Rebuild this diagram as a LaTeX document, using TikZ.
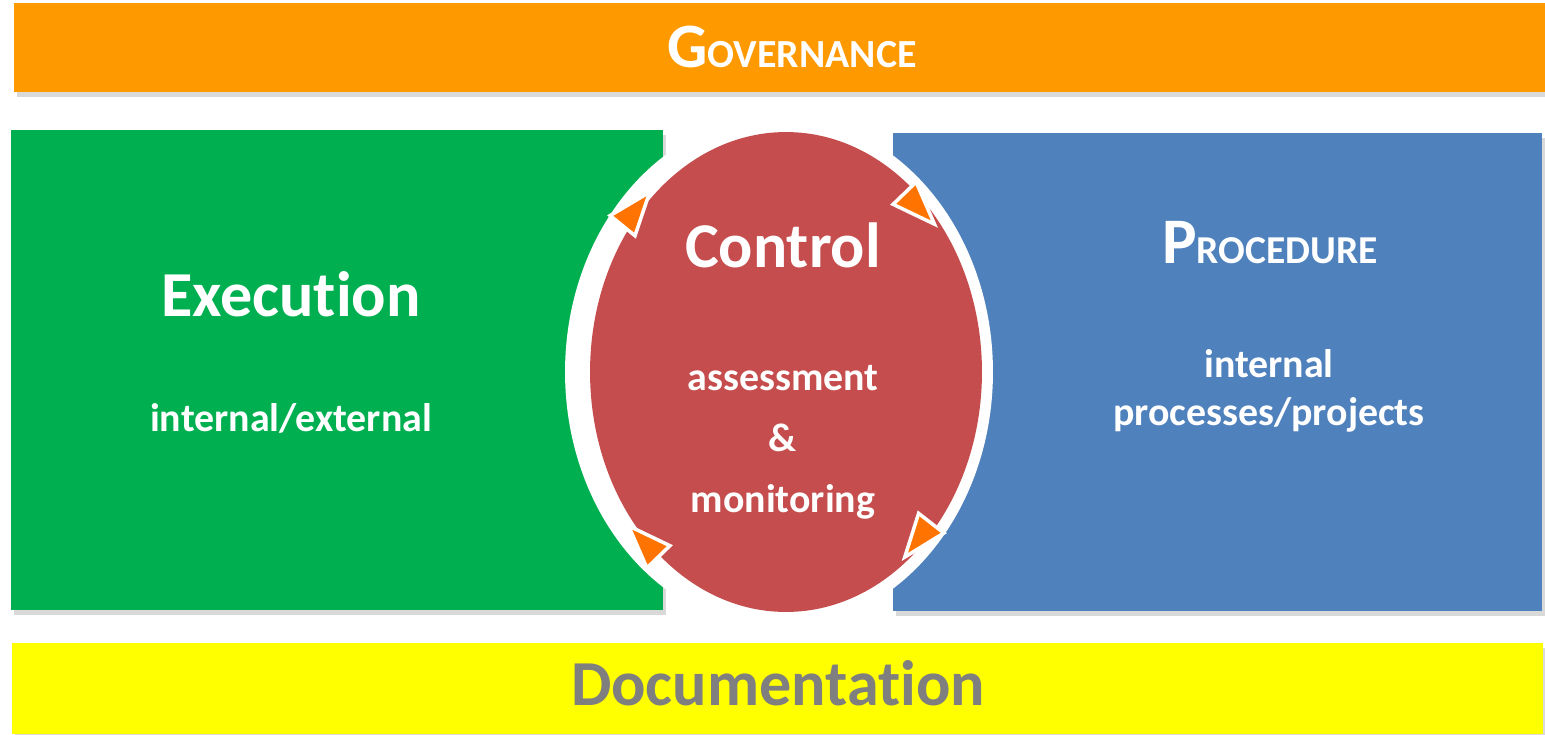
\documentclass[tikz,border=0pt]{standalone}
\usepackage{fontspec}
\setmainfont{Carlito}[Ligatures=NoCommon]
\usetikzlibrary{shapes, shadows, positioning}

\definecolor{govorange}{HTML}{FF9900}
\definecolor{execgreen}{HTML}{00B050}
\definecolor{procblue}{HTML}{4F81BD}
\definecolor{ctrlred}{HTML}{C64D4D}
\definecolor{docyellow}{HTML}{FFFF00}
\definecolor{docgrey}{HTML}{7F7F7F}
\definecolor{headorange}{HTML}{FF7300}

% orange arrow head on the control cycle: x, y, direction
\newcommand{\cyclehead}[3]{%
  \filldraw[headorange, draw=white, line width=2pt, shift={(#1,#2)}, rotate=#3]
    (28,0) -- (-15,16) -- (-15,-16) -- cycle;}

\begin{document}
\begin{tikzpicture}[x=0.02cm, y=-0.02cm,
    bar/.style={rectangle, anchor=north west, inner sep=0pt,
      drop shadow={shadow xshift=1.5pt, shadow yshift=-2.5pt, opacity=0.3}},
    title/.style={text=white, font=\bfseries\fontsize{36.5}{40}\selectfont, anchor=base},
    subtitle/.style={text=white, font=\bfseries\fontsize{22.7}{27}\selectfont, align=center, anchor=base}]
  \useasboundingbox (0,0) rectangle (1545,734);

  % Bars and boxes
  \node[bar, fill=govorange, minimum width=30.62cm, minimum height=1.78cm] (gov) at (14,3) {};
  \node[bar, fill=execgreen, minimum width=13.04cm, minimum height=9.6cm] (exec) at (11,130) {};
  \node[bar, fill=procblue, minimum width=12.98cm, minimum height=9.56cm] (proc) at (893,133) {};
  \node[bar, fill=docyellow, minimum width=30.62cm, minimum height=1.82cm] (doc) at (12,643) {};

  % White ring and control ellipse
  \node[ellipse, fill=white, inner sep=0pt, minimum width=8.56cm, minimum height=10.24cm] (ring) at (779,372) {};
  \node[ellipse, fill=ctrlred, inner sep=0pt, minimum width=7.84cm, minimum height=9.6cm] (ctrl) at (786,372) {};

  % Arrow heads (clockwise)
  \cyclehead{632}{214}{51}
  \cyclehead{915}{204}{-46}
  \cyclehead{922}{535}{-128}
  \cyclehead{648}{546}{134}

  % Texts
  \node[title] (govtitle) at (792,67) {{\fontsize{36}{40}\selectfont G}{\fontsize{22.7}{24}\selectfont OVERNANCE}};
  \node[title] (exectitle) at (291,316) {Execution};
  \node[title, font=\bfseries\fontsize{36.3}{40}\selectfont] (ctrltitle) at (783,267) {Control};
  \node[title] (proctitle) at (1270,263) {{\fontsize{37}{40}\selectfont P}{\fontsize{22.5}{24}\selectfont ROCEDURE}};
  \node[title, text=docgrey] (doctitle) at (778,705) {Documentation};

  \node[subtitle] (execsub) at (291,431) {internal/external};
  \node[subtitle, font=\bfseries\fontsize{22.7}{34.6}\selectfont] (ctrlsub) at (783,512) {assessment\\\&\\monitoring};
  \node[subtitle] (procsub) at (1269,425) {internal\\processes/projects};
\end{tikzpicture}
\end{document}
